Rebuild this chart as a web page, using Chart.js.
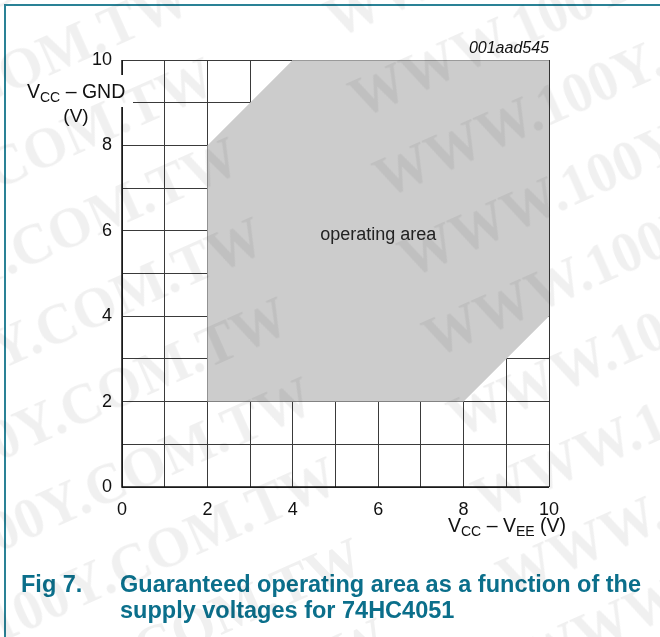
<!DOCTYPE html>
<html><head><meta charset="utf-8">
<script src="https://cdn.jsdelivr.net/npm/chart.js@4/dist/chart.umd.min.js"></script>
<style>
html,body{margin:0;padding:0;background:#fff;}
body{width:660px;height:637px;position:relative;overflow:hidden;font-family:"Liberation Sans",Arial,sans-serif;}
#c{position:absolute;left:0;top:0;}
#frameTop{position:absolute;left:4px;top:4px;width:656px;height:2px;background:#2a8296;}
#frameLeft{position:absolute;left:4px;top:4px;width:2px;height:633px;background:#2a8296;}
.cap{position:absolute;color:#0b6f8b;font-weight:bold;font-size:23.5px;line-height:26px;white-space:nowrap;}
#wm{position:absolute;left:360px;top:118px;width:0;height:0;transform:rotate(-24deg);transform-origin:0 0;pointer-events:none;}
#wm span{position:absolute;white-space:nowrap;font-family:"Liberation Serif","Times New Roman",serif;font-weight:bold;font-size:56px;line-height:56px;color:rgba(0,0,0,0.06);}
</style>
</head><body>
<canvas id="c" width="660" height="637"></canvas>
<div id="frameTop"></div><div id="frameLeft"></div>
<div class="cap" style="left:21px;top:571px;">Fig 7.</div>
<div class="cap" style="left:120px;top:571px;">Guaranteed operating area as a function of the<br>supply voltages for 74HC4051</div>
<div id="wm"></div>
<script>
// ---- data ----
const areaX = [2, 2, 4, 10, 10, 8, 2];
const areaY = [2, 8, 10, 10, 4, 2, 2];
const xTickLabels = [0, 2, 4, 6, 8, 10];
const yTickLabels = [0, 2, 4, 6, 8, 10];
const chartCode = '001aad545';
const areaLabel = 'operating area';

const points = areaX.map((x, i) => ({x: x, y: areaY[i]}));

const decor = {
  id: 'decor',
  afterDatasetsDraw(chart) {
    const {ctx, scales: {x, y}} = chart;
    const x0 = x.getPixelForValue(0), x10 = x.getPixelForValue(10);
    const y0 = y.getPixelForValue(0), y10 = y.getPixelForValue(10);
    ctx.save();
    // frame lines
    ctx.lineWidth = 1.5;
    ctx.strokeStyle = '#111';
    ctx.beginPath();
    ctx.moveTo(x0, y10); ctx.lineTo(x0, y0); ctx.lineTo(x10, y0);
    ctx.stroke();
    ctx.lineWidth = 1;
    ctx.strokeStyle = '#333';
    ctx.beginPath();
    ctx.moveTo(Math.round(x10) + 0.5, y10); ctx.lineTo(Math.round(x10) + 0.5, y0);
    ctx.stroke();
    ctx.strokeStyle = '#9a9a9a';
    ctx.beginPath();
    ctx.moveTo(x.getPixelForValue(4), Math.round(y10) + 0.5); ctx.lineTo(x10, Math.round(y10) + 0.5);
    ctx.stroke();
    // y axis title with white background
    ctx.fillStyle = '#fff';
    ctx.fillRect(20, 75, 113, 32);
    ctx.fillStyle = '#111';
    ctx.textBaseline = 'alphabetic';
    drawSub(ctx, [['V', 0], ['CC', 1], [' \u2013 GND', 0]], 27, 98);
    ctx.font = '19px "Liberation Sans", Arial, sans-serif';
    ctx.textAlign = 'center';
    ctx.fillText('(V)', 76, 122);
    // x axis title
    ctx.textAlign = 'left';
    drawSub(ctx, [['V', 0], ['CC', 1], [' \u2013 ', 0], ['V', 0], ['EE', 1], [' (V)', 0]], 448, 532);
    // area label
    ctx.font = '18px "Liberation Sans", Arial, sans-serif';
    ctx.textAlign = 'center';
    ctx.fillStyle = '#222';
    ctx.fillText(areaLabel, x.getPixelForValue(6), 240);
    // code
    ctx.font = 'italic 16px "Liberation Sans", Arial, sans-serif';
    ctx.textAlign = 'right';
    ctx.fillStyle = '#111';
    ctx.fillText(chartCode, x10, 53);
    ctx.restore();
  }
};

function drawSub(ctx, parts, x, base) {
  ctx.textAlign = 'left';
  let cx = x;
  for (const [t, sub] of parts) {
    ctx.font = (sub ? '14px' : '19.5px') + ' "Liberation Sans", Arial, sans-serif';
    ctx.fillText(t, cx, base + (sub ? 4 : 0));
    cx += ctx.measureText(t).width;
  }
}

new Chart(document.getElementById('c'), {
  type: 'line',
  data: {
    datasets: [{
      data: points,
      fill: 'shape',
      backgroundColor: '#cccccc',
      borderWidth: 0,
      borderColor: 'rgba(0,0,0,0)',
      pointRadius: 0,
      tension: 0
    }]
  },
  options: {
    responsive: false,
    animation: false,
    devicePixelRatio: 1,
    layout: {padding: {top: 60, right: 111, left: 0, bottom: 0}},
    plugins: {legend: {display: false}, tooltip: {enabled: false}},
    scales: {
      x: {
        type: 'linear', min: 0, max: 10,
        afterFit(s) { s.height = 150; },
        border: {display: false},
        grid: {color: '#3a3a3a', lineWidth: 1, drawTicks: false},
        ticks: {
          stepSize: 1, padding: 12, color: '#111', maxRotation: 0, autoSkip: false,
          font: {family: '"Liberation Sans", Arial, sans-serif', size: 18},
          callback: v => xTickLabels.includes(v) ? String(v) : ''
        }
      },
      y: {
        type: 'linear', min: 0, max: 10,
        afterFit(s) { s.width = 122; },
        border: {display: false},
        grid: {color: '#3a3a3a', lineWidth: 1, drawTicks: false},
        ticks: {
          stepSize: 1, padding: 10, color: '#111', autoSkip: false,
          font: {family: '"Liberation Sans", Arial, sans-serif', size: 18},
          callback: v => yTickLabels.includes(v) ? String(v) : ''
        }
      }
    }
  },
  plugins: [decor]
});

// watermark
const wm = document.getElementById('wm');
for (let r = -7; r <= 9; r++) {
  for (let c = -2; c <= 1; c++) {
    const s = document.createElement('span');
    s.textContent = 'WWW.100Y.COM.TW';
    s.style.left = (c * 682 - r * 10) + 'px';
    s.style.top = (r * 83 - 46) + 'px';
    wm.appendChild(s);
  }
}
</script>
</body></html>
